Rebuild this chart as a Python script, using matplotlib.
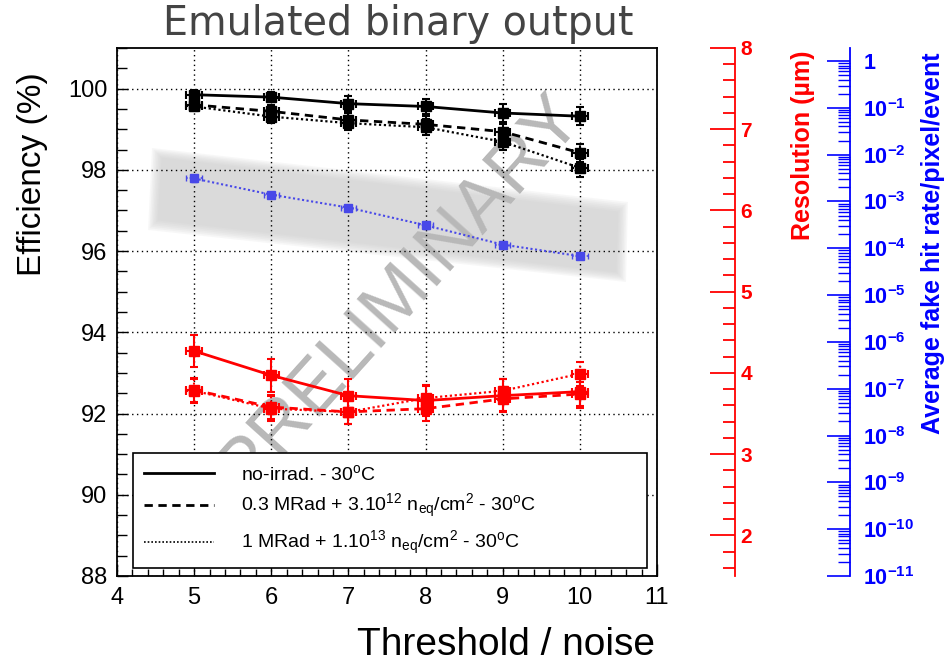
import numpy as np
import matplotlib
matplotlib.use("Agg")
import matplotlib.pyplot as plt
from matplotlib.lines import Line2D
from matplotlib.patches import Polygon
from matplotlib.ticker import MultipleLocator, LogLocator, NullFormatter

plt.rcParams['font.family'] = ['Liberation Sans', 'DejaVu Sans']
plt.rcParams['mathtext.fontset'] = 'custom'
plt.rcParams['mathtext.rm'] = 'Liberation Sans'
plt.rcParams['mathtext.it'] = 'Liberation Sans:italic'
plt.rcParams['mathtext.bf'] = 'Liberation Sans:bold'
plt.rcParams['mathtext.default'] = 'regular'

# ---- data ----
threshold = [5, 6, 7, 8, 9, 10]

# efficiency (%)
eff_noirr = [99.85, 99.79, 99.63, 99.56, 99.40, 99.32]
eff_noirr_err = [0.12, 0.12, 0.18, 0.18, 0.22, 0.22]
eff_03 = [99.60, 99.44, 99.23, 99.12, 98.94, 98.42]
eff_03_err = [0.12, 0.15, 0.18, 0.2, 0.2, 0.22]
eff_1 = [99.56, 99.31, 99.15, 99.05, 98.69, 98.05]
eff_1_err = [0.12, 0.15, 0.18, 0.2, 0.2, 0.22]

# resolution (um)
res_noirr = [4.27, 3.97, 3.72, 3.66, 3.72, 3.77]
res_noirr_err = [0.2, 0.2, 0.2, 0.19, 0.2, 0.2]
res_03 = [3.79, 3.58, 3.52, 3.56, 3.68, 3.74]
res_03_err = [0.15, 0.15, 0.15, 0.15, 0.15, 0.15]
res_1 = [3.78, 3.56, 3.52, 3.69, 3.78, 3.99]
res_1_err = [0.15, 0.15, 0.15, 0.15, 0.15, 0.15]

# fake hit rate / pixel / event
fake_rate = [3.1e-3, 1.4e-3, 7.4e-4, 3.1e-4, 1.2e-4, 6.8e-5]

legend_labels = ['no-irrad. - 30$^{o}$C',
                 '0.3 MRad + 3.10$^{12}$ n$_{eq}$/cm$^{2}$ - 30$^{o}$C',
                 '1 MRad + 1.10$^{13}$ n$_{eq}$/cm$^{2}$ - 30$^{o}$C']
res_ticks = [2, 3, 4, 5, 6, 7, 8]
fake_ticks = [10.0 ** -k for k in range(11, -1, -1)]
fake_labels = [r'$\mathbf{10^{-%d}}$' % k for k in range(11, 0, -1)] + [r'$\mathbf{1}$']

W, H = 946, 664
fig = plt.figure(figsize=(W / 100, H / 100), dpi=100)
ax = fig.add_axes([117 / W, 88 / H, 540 / W, 528 / H])
ax.patch.set_visible(False)

# watermark band (soft edged) + text, behind everything
def px(x, y):
    return (x / W, 1 - y / H)

for i in range(7):
    d = 10 - 1.6 * i
    band = Polygon([px(162 - d, 158 - d), px(618 + d, 212 - d),
                    px(616 + d, 272 + d), px(158 - d, 220 + d)],
                   closed=True, transform=fig.transFigure, facecolor='#c8c8c8',
                   alpha=0.13, edgecolor='none', zorder=-3)
    fig.add_artist(band)
fig.text(400 / W, 1 - 292 / H, 'PRELIMINARY', rotation=48, color='#b8b8b8',
         fontsize=54, ha='center', va='center', zorder=-1)

styles = ['-', (0, (3, 2)), (0, (1, 1.2))]
widths = [2.0, 2.0, 1.6]

def draw(axis, y, yerr, color, ls, lw, ms):
    c = axis.errorbar(threshold, y, yerr=yerr, xerr=0.1, color=color, marker='s',
                      ms=ms, lw=lw, capsize=3, elinewidth=1.5, capthick=1.5)
    c[0].set_linestyle(ls)
    for lc in c[2]:
        lc.set_linestyle(ls if ls != '-' else 'solid')
    return c

draw(ax, eff_noirr, eff_noirr_err, 'black', styles[0], widths[0], 6.5)
draw(ax, eff_03, eff_03_err, 'black', styles[1], widths[1], 6.5)
draw(ax, eff_1, eff_1_err, 'black', styles[2], widths[2], 6.5)

ax.set_xlim(4, 11)
ax.set_ylim(88, 101)
ax.xaxis.set_major_locator(MultipleLocator(1))
ax.xaxis.set_minor_locator(MultipleLocator(0.2))
ax.yaxis.set_major_locator(MultipleLocator(2))
ax.yaxis.set_minor_locator(MultipleLocator(0.5))
ax.tick_params(axis='both', which='both', direction='in', top=False, right=False,
               labelsize=17, width=1)
ax.tick_params(axis='x', which='major', length=9, pad=8)
ax.tick_params(axis='x', which='minor', length=5)
ax.tick_params(axis='y', which='major', length=8, pad=7)
ax.tick_params(axis='y', which='minor', length=7)
ax.grid(True, which='major', color='black', linestyle=(0, (1, 2.5)), linewidth=1)
for s in ax.spines.values():
    s.set_linewidth(1.3)

# resolution axis (red)
ax_r = ax.twinx()
ax_r.set_ylim(1.5, 8)
for k in ['top', 'bottom', 'left']:
    ax_r.spines[k].set_visible(False)
ax_r.spines['right'].set_position(('axes', 618 / 540))
ax_r.spines['right'].set_color('red')
ax_r.spines['right'].set_linewidth(1.3)
ax_r.set_yticks(res_ticks)
ax_r.set_yticklabels([str(t) for t in res_ticks], fontweight='bold')
ax_r.yaxis.set_minor_locator(MultipleLocator(0.2))
ax_r.tick_params(axis='y', which='both', direction='in', colors='red', labelsize=15, pad=4)
ax_r.tick_params(axis='y', which='major', length=18, width=1.3)
ax_r.tick_params(axis='y', which='minor', length=8.5, width=1.3)

draw(ax_r, res_noirr, res_noirr_err, 'red', styles[0], widths[0], 6.5)
draw(ax_r, res_03, res_03_err, 'red', styles[1], widths[1], 6.5)
draw(ax_r, res_1, res_1_err, 'red', styles[2], widths[2], 6.5)

# fake hit rate axis (blue, log)
ax_b = ax.twinx()
ax_b.set_yscale('log')
ax_b.set_ylim(1e-11, 1.9)
for k in ['top', 'bottom', 'left']:
    ax_b.spines[k].set_visible(False)
ax_b.spines['right'].set_position(('axes', 733 / 540))
ax_b.spines['right'].set_color('blue')
ax_b.spines['right'].set_linewidth(1.3)
ax_b.set_yticks(fake_ticks)
ax_b.set_yticklabels(fake_labels)
ax_b.yaxis.set_minor_locator(LogLocator(base=10, subs=np.arange(2, 10), numticks=30))
ax_b.yaxis.set_minor_formatter(NullFormatter())
ax_b.tick_params(axis='y', which='both', direction='in', colors='blue', labelsize=15.5, pad=9)
ax_b.tick_params(axis='y', which='major', length=16.5, width=1.2)
ax_b.tick_params(axis='y', which='minor', length=8.5, width=1)

fk_err = [0.15 * v for v in fake_rate]
c = ax_b.errorbar(threshold, fake_rate, yerr=fk_err, xerr=0.1, color='#4848e8',
                  marker='s', ms=5.5, lw=1.5, capsize=2.5, elinewidth=1.2)
c[0].set_linestyle((0, (1, 1.2)))
for lc in c[2]:
    lc.set_linestyle((0, (1, 1.2)))

# legend
handles = [Line2D([], [], color='black', ls=styles[i], lw=widths[i] if i < 2 else 1.2)
           for i in range(3)]
leg = ax.legend(handles, legend_labels, loc='lower left',
                bbox_to_anchor=(16 / 540, 8 / 528, 514 / 540, 96 / 528), mode='expand',
                borderaxespad=0, fontsize=14, handlelength=3.6, handletextpad=1.4,
                labelspacing=0.45, fancybox=False, framealpha=1, edgecolor='black',
                borderpad=0.55)
leg.get_frame().set_linewidth(1.2)
leg.set_zorder(5)

# texts
fig.text(398 / W, 1 - 24 / H, 'Emulated binary output', fontsize=28.5, color='#444444',
         ha='center', va='center', family='DejaVu Sans')
fig.text(32 / W, 1 - 174 / H, 'Efficiency (%)', rotation=90, fontsize=24,
         ha='center', va='center')
fig.text(506 / W, 1 - 645 / H, 'Threshold / noise', fontsize=28, ha='center', va='center')
fig.text(803 / W, 1 - 145 / H, 'Resolution (µm)', rotation=90, fontsize=18,
         fontweight='bold', color='red', ha='center', va='center')
fig.text(933 / W, 1 - 243 / H, 'Average fake hit rate/pixel/event', rotation=90,
         fontsize=18, fontweight='bold', color='blue', ha='center', va='center')

fig.savefig('out.png', dpi=100)
